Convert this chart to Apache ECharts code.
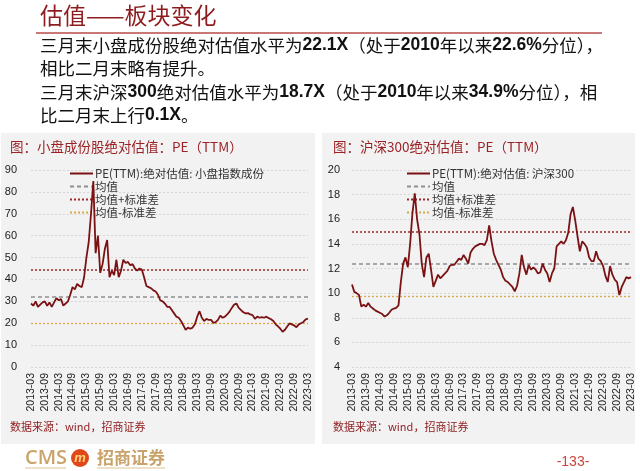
<!DOCTYPE html>
<html><head><meta charset="utf-8">
<script src="https://cdn.jsdelivr.net/npm/echarts@6/dist/echarts.min.js"></script>
<style>html,body{margin:0;padding:0;background:#fff}#c{width:640px;height:471px}</style>
</head><body><div id="c"></div>
<script>
// Monthly categories 2013-03 .. 2023-03
const categories = [];
for (let y = 2013, m = 3; y < 2023 || (y === 2023 && m <= 3); m++) {
  if (m > 12) { m = 1; y++; }
  if (y === 2023 && m > 3) break;
  categories.push(y + '-' + String(m).padStart(2, '0'));
}
const smallCapPE = [
  29, 28, 30, 27.5, 28.5, 29.5, 30, 28, 29.5, 27.5, 29.5, 31.5,
  30.5, 31, 28, 29, 30, 33, 36.5, 35.5, 38, 37, 36.5, 41,
  50, 57, 70, 85, 52, 60, 43, 47, 54, 58, 41, 44,
  42, 49, 41, 44, 49, 47.5, 48, 46.5, 47, 45, 44, 45,
  44.5, 41, 37, 36.5, 36, 35, 34.5, 33, 30.5, 30, 29, 27.5,
  27.5, 26, 24.5, 23, 22.5, 21, 19, 17, 18, 17.5, 18, 19.5,
  23, 25.5, 22.5, 21, 22, 21.5, 21.5, 20.2, 20.5, 21.5, 23.5, 22.5,
  23, 24, 25.3, 27, 28.5, 29, 27, 26, 25, 24.5, 24.6, 24,
  23.7, 22, 23, 22.5, 22.8, 22.5, 23, 22.3, 21.8, 21, 19.5, 18.6,
  17.5, 16.1, 17, 18.5, 19.9, 19.5, 19, 18.2, 19.5, 20, 20.6, 21.8,
  22.1
];
const hs300PE = [
  10.7, 10.1, 10.0, 9.85, 8.9, 9.05, 8.9, 9.2, 8.9, 8.75, 8.6, 8.5,
  8.4, 8.3, 8.1, 8.2, 8.4, 8.65, 8.75, 8.8, 9.0, 10.9, 12.4, 12.9,
  12.1, 14.0, 16.5, 18.1, 16.0, 14.8, 12.4, 11.3, 12.9, 13.2, 11.9, 10.5,
  11.0, 11.5, 11.2, 11.4, 11.6, 11.8, 12.2, 12.3, 12.3, 12.55, 12.8, 12.7,
  13.1, 12.8, 12.4, 13.3, 13.6, 13.8, 13.9, 14.0, 14.0, 13.9, 14.3, 15.5,
  14.2, 13.2, 12.7, 12.3, 11.9, 11.3, 11.0, 10.9, 10.7, 10.5, 10.15, 10.6,
  11.6, 13.1, 12.1, 11.5, 12.3, 11.9, 12.1, 11.9, 11.6, 11.7, 12.4, 11.9,
  11.6, 10.9, 11.6, 12.0, 13.8, 14.0, 14.2, 14.0, 14.3, 14.9, 16.4, 17.0,
  15.9, 14.6, 13.4, 14.2, 14.0, 13.7, 12.9, 12.6, 12.6, 13.4, 12.8, 12.6,
  12.2, 11.4, 10.9, 12.2, 11.5, 11.1, 10.9, 9.85, 10.5, 10.9, 11.3, 11.2,
  11.3
];
// reference levels: [mean, mean+std, mean-std]
const smallCapBands = [32.2, 44.3, 20.1];
const hs300Bands = [12.35, 14.97, 9.77];
const leftYTicks = { min: 0, max: 90, interval: 10 };
const rightYTicks = { min: 4, max: 20, interval: 2 };
const bandNames = ['均值', '均值+标准差', '均值-标准差'];
const leftName = 'PE(TTM):绝对估值: 小盘指数成份';
const rightName = 'PE(TTM):绝对估值: 沪深300';

const RED = '#7a1214';
const bandStyles = [
  { color: '#8f8f8f', type: [4, 3], width: 1.5 },
  { color: '#9a2a2a', type: [2, 2], width: 1.5 },
  { color: '#d8a94a', type: [2, 2], width: 1.3 }
];
const CJK = '"Noto Sans CJK SC", sans-serif';
const LAT = '"Liberation Sans", Arial, sans-serif';

function bandSeries(bands, gi) {
  return bands.map((v, i) => ({
    name: bandNames[i], type: 'line', xAxisIndex: gi, yAxisIndex: gi,
    data: [], symbol: 'none', showSymbol: false,
    lineStyle: bandStyles[i], itemStyle: { color: bandStyles[i].color },
    markLine: { silent: true, symbol: 'none', label: { show: false },
      lineStyle: bandStyles[i], data: [{ yAxis: v }], animation: false }
  }));
}

function xAxis(gi) {
  return { type: 'category', gridIndex: gi, data: categories, boundaryGap: false,
    axisLine: { show: false }, axisTick: { show: false }, splitLine: { show: false },
    axisLabel: { rotate: 90, interval: 5, fontSize: 10.5, color: '#222', fontFamily: LAT, margin: 6 } };
}
function yAxis(gi, t, margin) {
  return { type: 'value', gridIndex: gi, min: t.min, max: t.max, interval: t.interval,
    axisLine: { show: false }, axisTick: { show: false },
    splitLine: { lineStyle: { color: '#d6d6d6', type: [2, 2], width: 1 } },
    axisLabel: { fontSize: 11, color: '#222', fontFamily: LAT, margin: margin } };
}
function legend(left, names) {
  return { orient: 'vertical', left: left, top: 162, itemWidth: 23, itemHeight: 8, itemGap: 0,
    data: names, selectedMode: false,
    itemStyle: { opacity: 0, borderWidth: 0 },
    textStyle: { fontSize: 11.5, color: '#333', fontFamily: CJK, lineHeight: 13, padding: [0, 0, 0, -3] } };
}

const chart = echarts.init(document.getElementById('c'), null, { renderer: 'canvas' });
const bodyRich = {
  n: { fontFamily: CJK, fontSize: 17.5, color: '#111' },
  b: { fontFamily: LAT, fontSize: 17.5, fontWeight: 'bold', color: '#111' }
};
function bodyText(y, txt) {
  return { type: 'text', x: 40, y: y, style: { text: txt, rich: bodyRich, verticalAlign: 'middle', fill: '#111' } };
}
chart.setOption({
  animation: false,
  backgroundColor: '#ffffff',
  graphic: [
    { type: 'rect', shape: { x: 1, y: 133, width: 314, height: 311 }, style: { fill: '#f2f2f2' }, z: -10 },
    { type: 'rect', shape: { x: 322, y: 133, width: 313, height: 311 }, style: { fill: '#f2f2f2' }, z: -10 },
    { type: 'text', x: 40, y: 15, style: { text: '估值——板块变化', font: '23px ' + CJK, fill: '#8e1b1e', verticalAlign: 'middle' } },
    { type: 'line', shape: { x1: 36, y1: 33, x2: 602, y2: 33 }, style: { stroke: '#b94a4a', lineWidth: 1.5 } },
    bodyText(45, '{n|三月末小盘成份股绝对估值水平为}{b|22.1X}{n|（处于}{b|2010}{n|年以来}{b|22.6%}{n|分位），}'),
    bodyText(68, '{n|相比二月末略有提升。}'),
    bodyText(92, '{n|三月末沪深}{b|300}{n|绝对估值水平为}{b|18.7X}{n|（处于}{b|2010}{n|年以来}{b|34.9%}{n|分位），相}'),
    bodyText(115, '{n|比二月末上行}{b|0.1X}{n|。}'),
    { type: 'text', x: 10, y: 147, style: { text: '图：小盘成份股绝对估值：PE（TTM）', font: '13.5px ' + CJK, fill: '#9b2327', verticalAlign: 'middle' } },
    { type: 'text', x: 333, y: 147, style: { text: '图：沪深300绝对估值：PE（TTM）', font: '13.5px ' + CJK, fill: '#9b2327', verticalAlign: 'middle' } },
    { type: 'text', x: 10, y: 427, style: { text: '数据来源：wind，招商证券', font: '11px ' + CJK, fill: '#8e1b1e', verticalAlign: 'middle' } },
    { type: 'text', x: 333, y: 427, style: { text: '数据来源：wind，招商证券', font: '11px ' + CJK, fill: '#8e1b1e', verticalAlign: 'middle' } },
    { type: 'text', x: 25, y: 458, style: { text: 'CMS', font: '600 20px "Open Sans", sans-serif', fill: '#c9a36a', verticalAlign: 'middle' } },
    { type: 'circle', shape: { cx: 80, cy: 458, r: 9 }, style: { fill: '#e0481c' } },
    { type: 'text', x: 80, y: 458, style: { text: 'm', font: 'italic bold 13px ' + LAT, fill: '#ffd27a', align: 'center', verticalAlign: 'middle' } },
    { type: 'text', x: 97, y: 458, style: { text: '招商证券', font: 'bold 17px ' + CJK, fill: '#c9a36a', verticalAlign: 'middle' } },
    { type: 'line', shape: { x1: 25, y1: 468, x2: 66, y2: 468 }, style: { stroke: '#dcc393', lineWidth: 1 } },
    { type: 'line', shape: { x1: 97, y1: 468, x2: 165, y2: 468 }, style: { stroke: '#dcc393', lineWidth: 1 } },
    { type: 'text', x: 573, y: 462, style: { text: '-133-', font: '14px ' + LAT, fill: '#c8453c', align: 'center', verticalAlign: 'middle' } }
  ],
  legend: [
    legend(64, [leftName].concat(bandNames)),
    legend(401, [rightName].concat(bandNames))
  ],
  grid: [
    { left: 31, top: 170, width: 277, height: 197 },
    { left: 352, top: 170, width: 279, height: 197 }
  ],
  xAxis: [xAxis(0), xAxis(1)],
  yAxis: [yAxis(0, leftYTicks, 14), yAxis(1, rightYTicks, 12)],
  series: [
    { name: leftName, type: 'line', xAxisIndex: 0, yAxisIndex: 0, data: smallCapPE,
      symbol: 'none', showSymbol: false, lineStyle: { color: RED, width: 1.8 }, itemStyle: { color: RED }, z: 5 },
    ...bandSeries(smallCapBands, 0),
    { name: rightName, type: 'line', xAxisIndex: 1, yAxisIndex: 1, data: hs300PE,
      symbol: 'none', showSymbol: false, lineStyle: { color: RED, width: 1.8 }, itemStyle: { color: RED }, z: 5 },
    ...bandSeries(hs300Bands, 1)
  ]
});
</script></body></html>
